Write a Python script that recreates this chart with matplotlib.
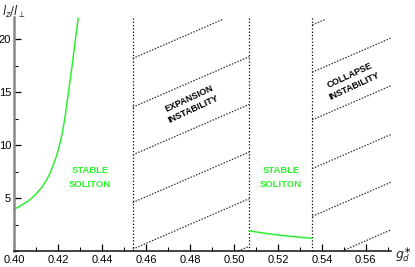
import matplotlib
matplotlib.use("Agg")
import matplotlib.pyplot as plt
import numpy as np
from matplotlib.ticker import MultipleLocator

# Data
soliton1_x = [0.400, 0.402, 0.405, 0.4075, 0.410, 0.4125, 0.415, 0.416, 0.417, 0.418, 0.419, 0.420,
              0.421, 0.422, 0.423, 0.4235, 0.4245, 0.4255, 0.4265, 0.4277, 0.4292]
soliton1_y = [3.96, 4.18, 4.55, 4.90, 5.40, 6.00, 6.80, 7.20, 7.68, 8.20, 8.80, 9.45,
              10.25, 11.2, 12.4, 13.1, 14.6, 16.1, 17.6, 19.6, 22.0]
soliton2_x = [0.507, 0.514, 0.521, 0.528, 0.5355]
soliton2_y = [1.93, 1.70, 1.52, 1.36, 1.23]
boundaries = [0.454, 0.507, 0.5356]
hatch_slope = 90.0
expansion_starts = [18.2, 13.6, 9.1, 4.6, 0.2, -4.3]
collapse_starts = [21.35, 16.9, 12.4, 7.8, 3.3, -1.2]
xticks = [0.40, 0.42, 0.44, 0.46, 0.48, 0.50, 0.52, 0.54, 0.56]
yticks = [5, 10, 15, 20]
xlim = (0.40, 0.5714)
ylim = (0.0, 22.1)

green = '#2ff02f'
plt.rcParams['font.family'] = ['Liberation Sans', 'DejaVu Sans']

fig = plt.figure(figsize=(4.15, 2.67), dpi=100)
ax = fig.add_axes([0.0337, 0.0588, 0.942 - 0.0337, 0.936 - 0.0588])
ax.set_xlim(*xlim)
ax.set_ylim(*ylim)

# vertical boundaries
for b in boundaries:
    ax.plot([b, b], [ylim[0], ylim[1]], ls=':', color='black', lw=0.9, clip_on=False)

ytop = 21.9
def hatch(x0, x1, starts):
    for c in starts:
        xs = np.linspace(x0, x1, 200)
        ys = c + hatch_slope * (xs - x0)
        m = (ys >= 0) & (ys <= ytop)
        if m.any():
            ax.plot(xs[m], ys[m], ls=(0, (1.2, 1.2)), color='#333333', lw=0.9)

hatch(boundaries[0], boundaries[1], expansion_starts)
hatch(boundaries[2], xlim[1], collapse_starts)

ax.plot(soliton1_x, soliton1_y, color=green, lw=1.1, clip_on=False)
ax.plot(soliton2_x, soliton2_y, color=green, lw=1.1)

for xc in (0.4345, 0.5215):
    ax.text(xc, 7.67, 'STABLE', color=green, fontsize=6.8, fontweight='bold',
            ha='center', va='center')
    ax.text(xc, 6.35, 'SOLITON', color=green, fontsize=6.8, fontweight='bold',
            ha='center', va='center')
ax.text(0.4805, 13.9, 'EXPANSION\nINSTABILITY', color='black', fontsize=6.5, fontweight='bold',
        ha='center', va='center', rotation=25, linespacing=1.3, rotation_mode='anchor')
ax.text(0.5538, 16.1, 'COLLAPSE\nINSTABILITY', color='black', fontsize=6.5, fontweight='bold',
        ha='center', va='center', rotation=25, linespacing=1.3, rotation_mode='anchor')

for s in ['top', 'right']:
    ax.spines[s].set_visible(False)
ax.spines['left'].set_color('#888888')
ax.spines['left'].set_linewidth(1.8)
ax.spines['bottom'].set_color('#222222')
ax.spines['bottom'].set_linewidth(1.2)

ax.set_xticks(xticks)
ax.set_xticklabels([f'{t:.2f}' for t in xticks])
ax.set_yticks(yticks)
ax.xaxis.set_minor_locator(MultipleLocator(0.01))
ax.yaxis.set_minor_locator(MultipleLocator(2.5))
ax.tick_params(which='major', direction='in', length=5, width=0.9, labelsize=8, pad=3, color='black')
ax.tick_params(which='minor', direction='in', length=3, width=0.8, color='black')
ax.tick_params(axis='y', which='both', pad=2)

fig.text(0.004, 0.955, r'$l_z/l_\perp$', fontsize=8.5, ha='left', va='center', color='#222222')
fig.text(0.952, 0.048, r'$g_d^{\ast}$', fontsize=9, ha='left', va='center', color='#222222')

fig.savefig('out.png', dpi=100)
